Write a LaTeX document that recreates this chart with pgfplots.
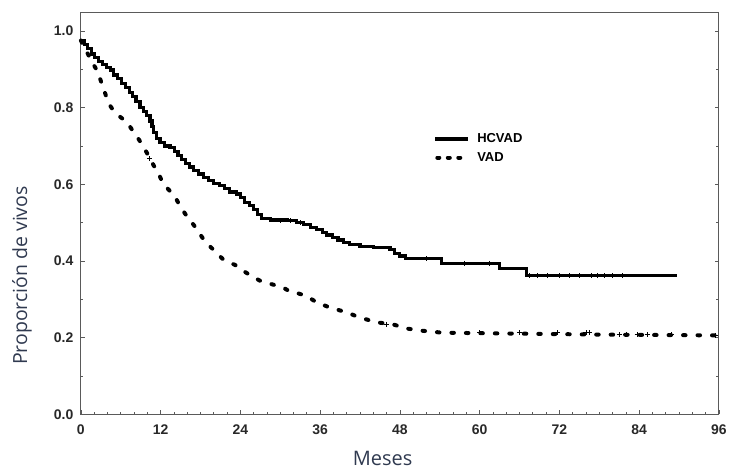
\documentclass[border=0pt]{standalone}
\usepackage{pgfplots}
\pgfplotsset{compat=1.18}
\usepackage{fontspec}
\setmainfont{Liberation Sans}
\newfontfamily\labelfont{Open Sans}
\definecolor{axlab}{RGB}{48,58,80}
\definecolor{tickc}{RGB}{40,40,40}
\definecolor{axc}{RGB}{90,90,90}

\pgfplotstableread{
x y
0 0.975
0.5 0.965
1.0 0.955
1.6 0.94
2.1 0.93
2.6 0.92
3.2 0.912
3.8 0.905
4.4 0.898
4.9 0.885
5.5 0.875
6.1 0.862
6.7 0.852
7.3 0.84
7.8 0.83
8.3 0.815
8.9 0.80
9.4 0.79
9.9 0.78
10.4 0.765
10.7 0.75
10.9 0.735
11.4 0.72
11.9 0.71
12.6 0.70
13.4 0.695
14.1 0.685
14.6 0.675
15.1 0.665
15.8 0.655
16.4 0.645
17.0 0.635
17.7 0.627
18.4 0.618
19.2 0.61
20.0 0.603
20.8 0.597
21.6 0.59
22.4 0.58
23.4 0.575
24.0 0.565
24.6 0.552
25.4 0.545
26.0 0.535
26.6 0.522
27.2 0.51
28.5 0.507
31.0 0.505
32.5 0.50
33.5 0.495
34.5 0.488
35.5 0.482
36.3 0.475
37.0 0.468
37.9 0.462
38.7 0.455
39.5 0.448
40.4 0.442
42.0 0.438
44.0 0.436
46.5 0.43
47.2 0.42
48.0 0.413
48.8 0.406
54.3 0.394
63.0 0.38
67.0 0.362
89.7 0.362
}\hcvad

\pgfplotstableread{
x y
0 0.975
0.6 0.955
1.2 0.935
1.8 0.915
2.5 0.895
3.0 0.87
3.4 0.85
3.8 0.83
4.2 0.81
4.8 0.795
5.4 0.783
6.2 0.772
7.0 0.76
7.6 0.745
8.2 0.73
8.8 0.715
9.3 0.70
9.9 0.683
10.4 0.667
10.9 0.651
11.4 0.635
11.9 0.62
12.3 0.604
13.0 0.59
13.8 0.575
14.4 0.56
14.9 0.544
15.5 0.528
16.1 0.513
16.8 0.498
17.4 0.484
18.0 0.468
18.6 0.453
19.3 0.44
20.1 0.427
20.7 0.416
21.3 0.406
22.3 0.397
23.4 0.388
24.2 0.377
25.1 0.367
26.0 0.358
26.9 0.349
28.0 0.343
29.4 0.336
30.5 0.33
31.5 0.32
32.8 0.315
34.0 0.308
35.5 0.292
37.4 0.279
40.0 0.266
41.9 0.253
44.5 0.24
46.9 0.235
49.0 0.224
51.4 0.218
54.4 0.213
78.0 0.208
96 0.206
}\vad

\begin{document}
\begin{tikzpicture}
\begin{axis}[
  name=ax,
  scale only axis,
  width=639pt, height=403pt,
  xmin=0, xmax=96, ymin=0, ymax=1.0495,
  axis line style={axc, line width=0.9pt},
  xtick={0,12,24,36,48,60,72,84,96},
  xticklabels={0,12,24,36,48,60,72,84,96},
  ytick={0,0.2,0.4,0.6,0.8,1.0},
  yticklabels={0.0,0.2,0.4,0.6,0.8,1.0},
  minor x tick num=5,
  minor y tick num=1,
  tick align=inside,
  xtick pos=left,
  ytick pos=both,
  yticklabel pos=left,
  major tick length=4pt,
  minor tick length=2.5pt,
  tick style={axc, line width=0.7pt},
  ticklabel style={font=\bfseries\fontsize{14}{16}\selectfont, color=tickc},
  xticklabel style={yshift=-7pt},
  yticklabel style={xshift=-4pt},
  xlabel={Meses},
  xlabel style={at={(rel axis cs:0.473,0)}, anchor=base, yshift=-51pt, font=\labelfont\fontsize{20}{24}\selectfont, color=axlab},
  ylabel={Proporción de vivos},
  ylabel style={at={(rel axis cs:0,0.345)}, anchor=center, yshift=59pt, font=\labelfont\fontsize{19.5}{24}\selectfont, color=axlab},
  legend image code/.code={\draw[#1] (0pt,0pt) -- (33pt,0pt);},
  legend style={at={(axis cs:53.0,0.735)}, anchor=north west, draw=none, fill=none,
    font=\bfseries\fontsize{13}{15}\selectfont, inner sep=0pt, row sep=6pt, column sep=6pt,
    nodes={inner sep=1pt}},
  legend cell align=left,
  clip=false,
]
\addlegendimage{black, line width=3.2pt}
\addlegendentry{HCVAD}
\addlegendimage{black, line width=4pt, line cap=round, dash pattern=on 2pt off 8.5pt, dash phase=-2pt}
\addlegendentry{VAD}

\addplot[const plot, black, line width=3.2pt, forget plot] table {\hcvad};
\addplot[black, line width=4pt, line cap=round, dash pattern=on 2.5pt off 12pt, forget plot] table {\vad};

\addplot[only marks, mark=+, mark size=2.5pt, line width=0.7pt, black, forget plot] coordinates {
(30.0,0.505) (31.5,0.505) (33.0,0.50) (52.0,0.406) (57.7,0.394) (61.4,0.394)
(67.5,0.362) (68.7,0.362) (70.2,0.362) (72.0,0.362) (73.5,0.362) (75.0,0.362)
(76.8,0.362) (77.7,0.362) (78.7,0.362) (79.9,0.362) (81.4,0.362)
};
\addplot[only marks, mark=+, mark size=2.5pt, line width=0.7pt, black, forget plot] coordinates {
(10.3,0.667) (46.0,0.235) (60.0,0.213) (66.0,0.213) (71.7,0.213) (76.0,0.213) (76.5,0.213)
(81.0,0.208) (82.0,0.208) (83.7,0.208) (85.2,0.208) (88.8,0.208) (95.5,0.206)
};
\end{axis}
\path ([shift={(-81pt,-56pt)}]ax.south west) rectangle ([shift={(10pt,12pt)}]ax.north east);
\end{tikzpicture}
\end{document}
